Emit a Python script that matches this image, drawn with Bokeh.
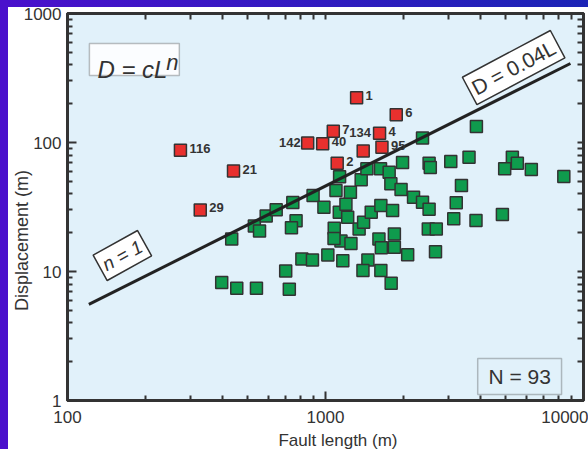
from bokeh.plotting import figure
from bokeh.models import LogAxis, FixedTicker, Label, BoxAnnotation, Range1d, ColumnDataSource
from bokeh.core.properties import value
from bokeh.embed import file_html
from bokeh.resources import INLINE

# ---------------- data ----------------
green_length = [433, 530, 555, 589, 644, 747, 769, 738, 895, 986,
                396, 453, 540, 724, 701, 810, 890, 1021, 1167, 1148,
                1255, 1081, 1131, 1219, 1200, 1098, 1249, 1134, 1350, 1405,
                1504, 1639, 1820, 1375, 1447, 1634, 1765, 1792, 1963, 2194,
                2377, 2521, 1989, 2377, 1611, 1849, 1849, 1646, 2082, 1460,
                1397, 1639, 1797, 2521, 2548, 3059, 3600, 3365, 3212, 3141,
                3831, 2503, 2688, 2669, 3845, 5300, 5541, 4949, 6277, 8389,
                4849, 1079]
green_disp = [17.9, 22.5, 20.6, 26.9, 30.1, 34.3, 24.7, 21.8, 38.8, 31.5,
              8.2, 7.4, 7.4, 7.3, 10.1, 12.5, 12.3, 13.4, 12.1, 17.2,
              16.5, 21.6, 28.8, 26.3, 33.2, 42.5, 41.2, 54.2, 21.4, 24.1,
              28.8, 32.5, 29.7, 51.4, 62.5, 62.5, 58.9, 47.8, 43.2, 37.7,
              34.4, 30.4, 70.0, 108.4, 17.9, 19.5, 15.4, 15.3, 13.5, 12.3,
              10.2, 10.2, 8.1, 69.1, 64.0, 71.2, 76.9, 46.4, 34.1, 25.6,
              24.9, 21.4, 21.4, 14.2, 133, 76.9, 69.1, 62.5, 61.8, 54.5,
              27.7, 18.0]

red_length = [1320, 1880, 1072, 1400, 1620, 853, 975, 1655, 1110, 274, 440, 327]
red_disp = [222, 164, 122, 86, 118, 99, 98, 92, 69, 87, 60, 30]
red_labels = ["1", "6", "7", "134", "4", "142", "40", "95", "2", "116", "21", "29"]

fit_length = [121, 8900]
fit_coef = 0.046

x_ticks = [100, 1000, 10000]
x_tick_labels = ["100", "1000", "10000"]
y_ticks = [1, 10, 100, 1000]
y_tick_labels = ["1", "10", "100", "1000"]

x_title = "Fault length (m)"
y_title = "Displacement (m)"
law_text = "D = cL"
law_exp = "n"
fit_text = "D = 0.04L"
slope_text = "n = 1"
count_text = "N = 93"

# ---------------- styling ----------------
FONT = "Liberation Sans"
INK = "#333333"
BG = "#e1f1fa"
GREEN = "#0f9b4d"
RED = "#e8302e"

x_minor = [m * 10 ** k for k in (2, 3) for m in range(2, 10)]
y_minor = [m * 10 ** k for k in (0, 1, 2) for m in range(2, 10)]

p = figure(width=588, height=449, x_axis_type="log", y_axis_type="log",
           x_range=Range1d(100, 10000), y_range=Range1d(1, 1000),
           output_backend="svg", toolbar_location=None,
           min_border_left=66, min_border_right=5, min_border_top=13, min_border_bottom=49,
           background_fill_color=BG, border_fill_color="white")
p.xgrid.visible = False
p.ygrid.visible = False
p.outline_line_color = INK
p.outline_line_width = 3


def style_axis(ax, major, minor):
    ax.ticker = FixedTicker(ticks=major, minor_ticks=minor)
    ax.axis_line_color = INK
    ax.axis_line_width = 3
    ax.major_tick_in = 9
    ax.major_tick_out = 0
    ax.minor_tick_in = 5
    ax.minor_tick_out = 0
    ax.major_tick_line_color = INK
    ax.major_tick_line_width = 2
    ax.minor_tick_line_color = INK
    ax.minor_tick_line_width = 2
    ax.major_label_text_font = FONT
    ax.major_label_text_color = INK
    ax.major_label_text_font_size = "17px"


style_axis(p.xaxis[0], x_ticks, x_minor)
style_axis(p.yaxis[0], y_ticks, y_minor)
p.xaxis[0].major_label_overrides = {t: l for t, l in zip(x_ticks, x_tick_labels)}
p.yaxis[0].major_label_overrides = {t: l for t, l in zip(y_ticks, y_tick_labels)}
p.xaxis[0].major_label_standoff = 10
p.yaxis[0].major_label_standoff = 6

# frame ticks on top and right (no labels: every tick is a minor tick there)
top_axis = LogAxis()
style_axis(top_axis, [], x_minor + x_ticks)
top_axis.minor_tick_in = 6
p.add_layout(top_axis, "above")
right_axis = LogAxis()
style_axis(right_axis, [], y_minor + y_ticks)
right_axis.minor_tick_in = 6
p.add_layout(right_axis, "right")

# points
p.scatter(green_length, green_disp, marker="square", size=12,
          fill_color=GREEN, line_color=INK, line_width=1.5)

fit_disp = [fit_coef * L for L in fit_length]
p.line(fit_length, fit_disp, line_width=3, line_color="#222222")

p.scatter(red_length, red_disp, marker="square", size=12,
          fill_color=RED, line_color=INK, line_width=1.5)

left_side = {"142"}
above = {"134"}


def pick(keep):
    return ColumnDataSource(dict(
        x=[L for L, t in zip(red_length, red_labels) if keep(t)],
        y=[D for D, t in zip(red_disp, red_labels) if keep(t)],
        t=[t for t in red_labels if keep(t)]))


common = dict(text="t", text_font=value(FONT), text_font_size="13px",
              text_font_style="bold", text_color=INK, text_baseline="middle")
p.text("x", "y", source=pick(lambda t: t not in left_side and t not in above),
       x_offset=9, y_offset=-2, text_align="left", **common)
p.text("x", "y", source=pick(lambda t: t in left_side),
       x_offset=-7, y_offset=-1, text_align="right", **common)
p.text("x", "y", source=pick(lambda t: t in above),
       x_offset=-3, y_offset=-18, text_align="center", **common)

# annotation boxes
p.add_layout(BoxAnnotation(left=121.6, right=271.3, bottom=330.7, top=585.5,
                           fill_color="white", fill_alpha=0.85,
                           line_color=INK, line_width=1.5))
p.add_layout(Label(x=130.6, y=368, text=law_text, text_font=FONT, text_font_size="24px",
                   text_font_style="italic", text_color=INK, text_baseline="alphabetic"))
p.add_layout(Label(x=241.5, y=417, text=law_exp, text_font=FONT, text_font_size="22px",
                   text_font_style="italic", text_color=INK, text_baseline="alphabetic"))

p.add_layout(BoxAnnotation(left=3890, right=8221, bottom=1.113, top=2.117,
                           fill_alpha=0, line_color=INK, line_width=1.5))
p.add_layout(Label(x=5654, y=1.535, text=count_text, text_font=FONT, text_font_size="21px",
                   text_color=INK, text_align="center", text_baseline="middle"))

p.add_layout(Label(x=5361, y=381, text=fit_text, angle=28, angle_units="deg",
                   text_font=FONT, text_font_size="21px", text_color=INK,
                   text_align="center", text_baseline="middle",
                   background_fill_color="white", border_line_color=INK,
                   border_line_width=1.5, padding=4))
p.add_layout(Label(x=163.2, y=13.3, text=slope_text, angle=29, angle_units="deg",
                   text_font=FONT, text_font_size="19px", text_font_style="italic",
                   text_color=INK, text_align="center", text_baseline="middle",
                   background_fill_color="white", border_line_color=INK,
                   border_line_width=1.5, padding=4))

# axis titles, in the side panels (data units along the frame scales)
p.add_layout(Label(x=1118, y=0.49, text=x_title,
                   text_font=FONT, text_font_size="17px", text_color=INK,
                   text_align="center", text_baseline="middle"), "below")
p.add_layout(Label(x=66.4, y=17.4, text=y_title, angle=90, angle_units="deg",
                   text_font=FONT, text_font_size="18px", text_color=INK,
                   text_align="center", text_baseline="middle"), "left")

html = file_html(p, INLINE)
html = html.replace(
    "</head>",
    "<style>html,body{margin:0 !important;padding:0 !important;}"
    "body::before{content:'';position:fixed;left:0;top:0;width:100%;height:7px;z-index:99;"
    "background:linear-gradient(90deg,#4a10cc,#1c24b6);}"
    "body::after{content:'';position:fixed;left:0;top:0;width:8px;height:100%;z-index:99;"
    "background:#4a10cc;}</style></head>", 1)
open("out.html", "w").write(html)
